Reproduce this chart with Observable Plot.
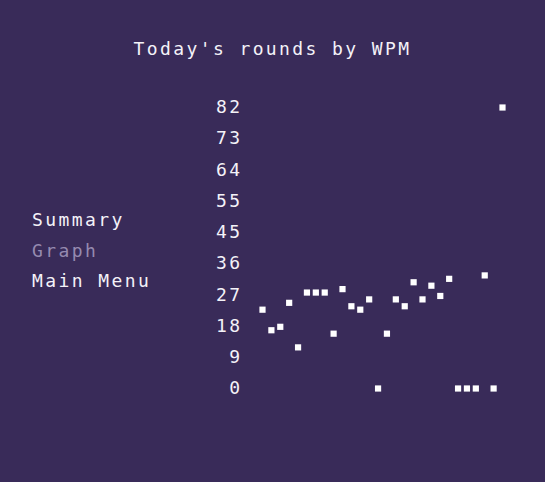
<!DOCTYPE html>
<html>
<head>
<meta charset="utf-8">
<script src="https://cdn.jsdelivr.net/npm/d3@7"></script>
<script src="https://cdn.jsdelivr.net/npm/@observablehq/plot@0.6"></script>
<style>
  html, body { margin: 0; padding: 0; }
  body { width: 545px; height: 482px; background: #392b59; position: relative; overflow: hidden;
         font-family: "DejaVu Sans Mono", monospace; color: #f4f2f8; }
  .t { position: absolute; font-size: 18px; letter-spacing: 2.4px; line-height: 1; white-space: nowrap; }
  #title { left: 0; width: 545px; text-align: center; top: 40px; }
  #chart { position: absolute; left: 200px; top: 90px; }
</style>
</head>
<body>
<div id="title" class="t">Today's rounds by WPM</div>
<div class="t" style="left:32px; top:211px;">Summary</div>
<div class="t" style="left:32px; top:242px; color:#958ab0;">Graph</div>
<div class="t" style="left:32px; top:272px;">Main Menu</div>
<div id="chart"></div>
<script>
const rounds = [1,2,3,4,5,6,7,8,9,10,11,12,13,14,15,16,17,18,19,20,21,22,23,24,25,26,27,28];
const wpm = [23,17,18,25,12,28,28,28,16,29,24,23,26,0,16,26,24,31,26,30,27,32,0,0,0,33,0,82];
const tickLabels = [0,9,18,27,36,45,55,64,73,82];

const data = rounds.map((r, i) => ({round: r, wpm: wpm[i]}));
const maxW = d3.max(wpm);
const tickPos = tickLabels.map((_, i) => i * maxW / (tickLabels.length - 1));

const chart = Plot.plot({
  width: 310,
  height: 310,
  marginLeft: 62,
  marginRight: 8,
  marginTop: 17,
  marginBottom: 12,
  style: {background: "transparent", color: "#f4f2f8", fontFamily: "DejaVu Sans Mono, monospace", fontSize: "18px", overflow: "visible"},
  x: {domain: [1, 28], axis: null},
  y: {domain: [0, maxW]},
  marks: [
    Plot.axisY({ticks: tickPos, tickFormat: (d, i) => String(tickLabels[i]), tickSize: 0, tickPadding: 20, label: null,
      fill: "#f4f2f8", fontSize: 18}),
    Plot.dot(data, {x: "round", y: "wpm", symbol: "square", r: 3.5, fill: "#ffffff", stroke: "none"})
  ]
});
chart.querySelectorAll("text").forEach(t => t.style.letterSpacing = "2.4px");
document.getElementById("chart").appendChild(chart);
</script>
</body>
</html>
